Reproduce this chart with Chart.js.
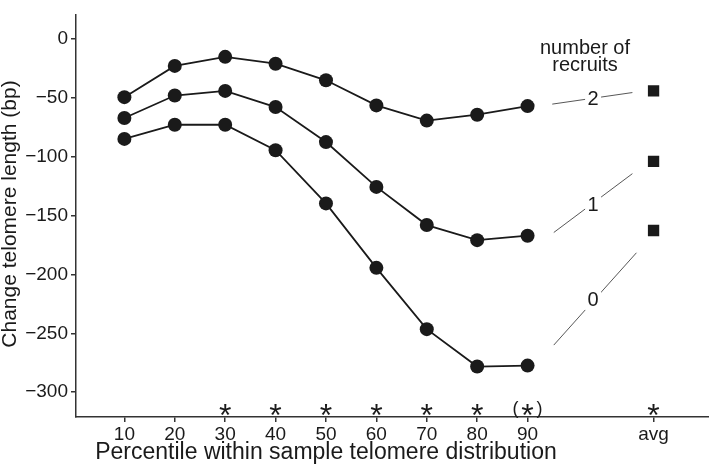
<!DOCTYPE html>
<html>
<head>
<meta charset="utf-8">
<script src="https://cdn.jsdelivr.net/npm/chart.js@4.4.1/dist/chart.umd.min.js"></script>
<style>
  body { margin: 0; background: #fff; }
  #wrap { width: 709px; height: 467px; }
</style>
</head>
<body>
<div id="wrap"><canvas id="myChart" width="709" height="467"></canvas></div>
<script>
// data
var percentiles = [10, 20, 30, 40, 50, 60, 70, 80, 90];
var recruits2 = [-49.7, -23.2, -15.5, -21.3, -35.4, -56.7, -69.6, -64.6, -57.3];
var recruits1 = [-67.4, -48.3, -44.4, -58.1, -87.8, -125.8, -158.2, -171.0, -167.2];
var recruits0 = [-85.1, -73.1, -73.1, -94.7, -139.8, -194.5, -246.5, -278.2, -277.4];
var avgX = 115;
var avgValues = [-44.4, -104.2, -162.8]; // 2, 1, 0 recruits

var xTickValues = [10, 20, 30, 40, 50, 60, 70, 80, 90, 115];
var xTickLabels = ["10", "20", "30", "40", "50", "60", "70", "80", "90", "avg"];
var yTickValues = [-300, -250, -200, -150, -100, -50, 0];

// significance marks under each column
var sigX = [30, 40, 50, 60, 70, 80, 90, 115];
var sigParen = [false, false, false, false, false, false, true, false];

// recruit labels: text, label position, leader line ends
var recruitNames = ["2", "1", "0"];
var recruitLabelY = [-50.7, -140.8, -221];
var recruitLineFrom = [[94.9, -55.6], [95.2, -164.5], [95.2, -260]];
var recruitLineTo = [[110.8, -45.8], [110.8, -114.6], [111.6, -181.7]];

var FONT = "'Liberation Sans', Arial, Helvetica, sans-serif";
var INK = "#1a1a1a";

function pts(xs, ys) {
  return xs.map(function (x, i) {
    return { x: x, y: ys[i] };
  });
}

function lineSet(values) {
  return {
    data: pts(percentiles, values),
    borderColor: INK,
    backgroundColor: INK,
    borderWidth: 1.8,
    pointRadius: 7,
    pointBorderWidth: 0,
    showLine: true,
  };
}

var extras = {
  id: "extras",
  afterDraw: function (chart) {
    var ctx = chart.ctx;
    var xs = chart.scales.x;
    var ys = chart.scales.y;
    var area = chart.chartArea;
    ctx.save();
    ctx.fillStyle = INK;
    ctx.strokeStyle = "#444";

    // leader lines with labels
    ctx.font = "20px " + FONT;
    ctx.textAlign = "center";
    ctx.textBaseline = "middle";
    recruitNames.forEach(function (name, i) {
      ctx.lineWidth = 0.9;
      ctx.beginPath();
      ctx.moveTo(xs.getPixelForValue(recruitLineFrom[i][0]), ys.getPixelForValue(recruitLineFrom[i][1]));
      ctx.lineTo(xs.getPixelForValue(recruitLineTo[i][0]), ys.getPixelForValue(recruitLineTo[i][1]));
      ctx.stroke();
      var lx = xs.getPixelForValue(103);
      var ly = ys.getPixelForValue(recruitLabelY[i]);
      ctx.fillStyle = "#fff";
      ctx.fillRect(lx - 8, ly - 11, 16, 22);
      ctx.fillStyle = INK;
      ctx.fillText(name, lx, ly + 1);
    });

    // legend title
    ctx.font = "20px " + FONT;
    var tx = xs.getPixelForValue(101.4);
    ctx.fillText("number of", tx, ys.getPixelForValue(-8.2));
    ctx.fillText("recruits", tx, ys.getPixelForValue(-23));

    // asterisks
    ctx.textBaseline = "alphabetic";
    sigX.forEach(function (v, i) {
      var px = xs.getPixelForValue(v);
      ctx.font = "32px " + FONT;
      ctx.fillText("*", px, area.bottom + 9);
      if (sigParen[i]) {
        ctx.font = "18px " + FONT;
        ctx.fillText("(", px - 12, area.bottom - 3);
        ctx.fillText(")", px + 12, area.bottom - 3);
      }
    });

    // axis titles
    ctx.font = "23px " + FONT;
    ctx.textBaseline = "middle";
    ctx.fillText("Percentile within sample telomere distribution", xs.getPixelForValue(50), 453);
    ctx.font = "21px " + FONT;
    ctx.translate(10, 214);
    ctx.rotate(-Math.PI / 2);
    ctx.fillText("Change telomere length (bp)", 0, 0);
    ctx.restore();
  },
};

var ctx = document.getElementById("myChart").getContext("2d");
var myChart = new Chart(ctx, {
  type: "scatter",
  data: {
    datasets: [
      lineSet(recruits2),
      lineSet(recruits1),
      lineSet(recruits0),
      {
        data: avgValues.map(function (v) {
          return { x: avgX, y: v };
        }),
        backgroundColor: INK,
        borderWidth: 0,
        pointStyle: "rect",
        pointRadius: 8,
        showLine: false,
      },
    ],
  },
  options: {
    responsive: false,
    animation: false,
    layout: { padding: 0, autoPadding: false },
    plugins: {
      legend: { display: false },
      tooltip: { enabled: false },
    },
    scales: {
      x: {
        type: "linear",
        min: 0.4,
        max: 126,
        afterBuildTicks: function (scale) {
          scale.ticks = xTickValues.map(function (v) {
            return { value: v };
          });
        },
        afterFit: function (scale) {
          scale.height = 50;
        },
        ticks: {
          autoSkip: false,
          maxRotation: 0,
          padding: 1,
          color: INK,
          font: { family: FONT, size: 19 },
          callback: function (v) {
            var i = xTickValues.indexOf(v);
            return i >= 0 ? xTickLabels[i] : "";
          },
        },
        grid: { drawOnChartArea: false, drawTicks: true, tickLength: 5, color: "#333", lineWidth: 1.5 },
        border: { display: true, color: "#333", width: 1.5 },
      },
      y: {
        min: -321,
        max: 20.5,
        afterBuildTicks: function (scale) {
          scale.ticks = yTickValues.map(function (v) {
            return { value: v };
          });
        },
        afterFit: function (scale) {
          scale.width = 76;
        },
        ticks: {
          padding: 3,
          color: INK,
          font: { family: FONT, size: 19 },
          callback: function (v) {
            return String(v).replace("-", "\u2212");
          },
        },
        grid: { drawOnChartArea: false, drawTicks: true, tickLength: 5, color: "#333", lineWidth: 1.5 },
        border: { display: true, color: "#333", width: 1.5 },
      },
    },
  },
  plugins: [extras],
});
</script>
</body>
</html>
